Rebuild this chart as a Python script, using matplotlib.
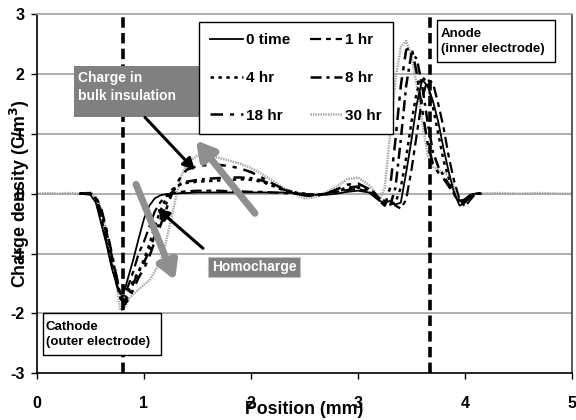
import matplotlib
matplotlib.use('Agg')
import matplotlib.pyplot as plt
from matplotlib.patches import Rectangle

plt.rcParams['font.family'] = ['Liberation Sans', 'DejaVu Sans']
plt.rcParams['font.weight'] = 'bold'
plt.rcParams['font.size'] = 10
plt.rcParams['lines.scale_dashes'] = False

# ---------------- data ----------------
position = [0.40, 0.50, 0.55, 0.60, 0.65, 0.70, 0.75, 0.78, 0.82, 0.86,
            0.90, 0.95, 1.00, 1.05, 1.10, 1.15, 1.20, 1.25, 1.30, 1.35,
            1.40, 1.50, 1.60, 1.70, 1.80, 1.90, 2.00, 2.10, 2.20, 2.30,
            2.40, 2.50, 2.60, 2.70, 2.80, 2.90, 3.00, 3.10, 3.15, 3.20,
            3.25, 3.30, 3.35, 3.40, 3.45, 3.50, 3.55, 3.60, 3.65, 3.70,
            3.75, 3.80, 3.85, 3.90, 3.95, 4.00, 4.05, 4.10, 4.15]

time_0 = [0.0, -0.02, -0.15, -0.5, -0.85, -1.25, -1.55, -1.68, -1.6, -1.35,
          -1.1, -0.75, -0.42, -0.2, -0.08, -0.03, -0.01, 0.0, 0.0, 0.01,
          0.01, 0.02, 0.02, 0.02, 0.02, 0.02, 0.02, 0.02, 0.02, 0.02,
          0.01, 0.0, -0.02, -0.02, 0.0, 0.03, 0.05, 0.02, -0.05, -0.12,
          -0.15, -0.12, -0.18, -0.15, 0.35, 0.9, 1.5, 1.9, 1.8, 1.55,
          1.2, 0.75, 0.35, 0.0, -0.2, -0.15, -0.05, 0.0, 0.0]

hr_1 = [0.0, 0.0, -0.1, -0.4, -0.8, -1.2, -1.55, -1.72, -1.7, -1.5,
        -1.3, -1.0, -0.8, -0.55, -0.3, -0.15, -0.05, 0.0, 0.02, 0.03,
        0.04, 0.05, 0.05, 0.05, 0.04, 0.04, 0.03, 0.03, 0.02, 0.01,
        0.0, -0.02, -0.02, 0.0, 0.03, 0.06, 0.08, 0.03, -0.02, -0.08,
        -0.12, -0.1, -0.2, -0.25, -0.1, 0.4, 1.0, 1.6, 1.9, 1.85,
        1.5, 1.1, 0.6, 0.2, -0.1, -0.22, -0.1, 0.0, 0.0]

hr_4 = [0.0, 0.0, -0.1, -0.35, -0.7, -1.1, -1.5, -1.75, -1.78, -1.6,
        -1.45, -1.3, -1.1, -0.85, -0.55, -0.3, -0.1, 0.05, 0.12, 0.16,
        0.18, 0.2, 0.21, 0.22, 0.23, 0.24, 0.23, 0.2, 0.13, 0.06,
        0.02, 0.0, -0.02, 0.0, 0.04, 0.08, 0.1, 0.05, 0.0, -0.1,
        -0.15, -0.18, -0.15, 0.1, 0.6, 1.2, 1.7, 1.95, 1.85, 1.45,
        1.0, 0.55, 0.25, 0.0, -0.15, -0.12, -0.03, 0.0, 0.0]

hr_8 = [0.0, 0.0, -0.08, -0.3, -0.65, -1.05, -1.45, -1.7, -1.8, -1.7,
        -1.5, -1.3, -1.15, -0.95, -0.7, -0.45, -0.2, 0.0, 0.1, 0.17,
        0.2, 0.23, 0.25, 0.26, 0.27, 0.27, 0.26, 0.22, 0.15, 0.07,
        0.02, -0.02, -0.03, 0.0, 0.05, 0.1, 0.12, 0.08, 0.02, -0.08,
        -0.18, -0.2, 0.1, 0.9, 1.8, 2.35, 2.25, 1.8, 1.2, 0.7,
        0.45, 0.3, 0.15, 0.0, -0.12, -0.1, -0.02, 0.0, 0.0]

hr_18 = [0.0, 0.0, -0.05, -0.25, -0.6, -1.0, -1.45, -1.75, -1.85, -1.75,
         -1.6, -1.4, -1.25, -1.05, -0.8, -0.55, -0.3, -0.05, 0.15, 0.3,
         0.4, 0.46, 0.48, 0.48, 0.46, 0.42, 0.36, 0.27, 0.17, 0.08,
         0.02, -0.03, -0.04, 0.0, 0.07, 0.15, 0.17, 0.08, 0.0, -0.12,
         -0.2, 0.1, 0.9, 1.8, 2.4, 2.45, 2.0, 1.4, 0.85, 0.5,
         0.35, 0.25, 0.12, -0.02, -0.15, -0.1, -0.02, 0.0, 0.0]

position_30 = [0.0, 0.1, 0.2, 0.3] + position + [4.3, 4.5, 4.7, 4.9, 5.0]
hr_30 = [0.0, 0.01, 0.0, 0.01,
         0.0, 0.02, -0.05, -0.25, -0.65, -1.1, -1.6, -1.95, -1.9, -1.75,
         -1.68, -1.6, -1.52, -1.45, -1.3, -1.15, -0.85, -0.45, -0.05, 0.3,
         0.5, 0.64, 0.63, 0.6, 0.55, 0.5, 0.43, 0.33, 0.22, 0.1,
         0.0, -0.08, -0.06, 0.02, 0.12, 0.24, 0.27, 0.15, 0.05, -0.12,
         0.1, 1.0, 1.9, 2.45, 2.55, 2.3, 1.8, 1.2, 0.65, 0.45,
         0.4, 0.35, 0.3, 0.12, -0.12, -0.1, -0.03, 0.0, 0.0,
         0.01, 0.0, 0.01, 0.0, 0.0]

series_labels = ['0 time', '1 hr', '4 hr', '8 hr', '18 hr', '30 hr']
x_ticks = [0, 1, 2, 3, 4, 5]
y_ticks = [-3, -2, -1, 0, 1, 2, 3]
cathode_x = 0.8
anode_x = 3.67

# ---------------- figure ----------------
fig = plt.figure(figsize=(5.76, 4.2), dpi=100)
ax = fig.add_axes([37 / 576, 1 - 373.3 / 420, 535 / 576, 359.3 / 420])
ax.set_xlim(0, 5)
ax.set_ylim(-3, 3)

for yv in [-2, -1, 0, 1, 2]:
    ax.axhline(yv, color='#a8a8a8', lw=1.3, zorder=0)

h30, = ax.plot(position_30, hr_30, color='#a5a5a5', lw=1.8,
               linestyle=(0, (1.0, 0.8)), zorder=2)
h0, = ax.plot(position, time_0, color='black', lw=1.3, linestyle='-', zorder=3)
h1, = ax.plot(position, hr_1, color='black', lw=1.6,
              linestyle=(0, (8, 3.5, 3.5, 3.5)), zorder=3)
h4, = ax.plot(position, hr_4, color='black', lw=1.8,
              linestyle=(0, (2.5, 3.2)), zorder=3)
h8, = ax.plot(position, hr_8, color='black', lw=1.8,
              linestyle=(0, (8, 3.5, 2.2, 3.5)), zorder=3)
h18, = ax.plot(position, hr_18, color='black', lw=1.8,
               linestyle=(0, (9, 5, 3, 5)), zorder=3)

for xv in [cathode_x, anode_x]:
    ax.axvline(xv, color='black', lw=2.6, linestyle=(0, (7.5, 3.8)), zorder=4)

# spines
for side in ['left', 'bottom']:
    ax.spines[side].set_color('black')
    ax.spines[side].set_linewidth(1.2)
ax.spines['top'].set_color('#a8a8a8')
ax.spines['top'].set_linewidth(1.3)
ax.spines['right'].set_color('#404040')
ax.spines['right'].set_linewidth(1.2)

ax.set_xticks(x_ticks)
ax.set_xticklabels([str(v) for v in x_ticks])
ax.set_yticks(y_ticks)
ax.set_yticklabels([str(v) for v in y_ticks])
ax.tick_params(axis='x', direction='out', length=4, width=1, pad=12, labelsize=11.5)
ax.tick_params(axis='y', direction='out', length=4, width=1, pad=5, labelsize=11.5)
for lab in ax.get_xticklabels() + ax.get_yticklabels():
    lab.set_fontweight('bold')

ax.set_xlabel('Position (mm)', fontsize=12.8, fontweight='bold', va='center')
ax.xaxis.set_label_coords(0.5, -0.100)
ax.set_ylabel('Charge density (C/m$^\\mathbf{3}$)', fontsize=12.8,
              fontweight='bold', va='center')
ax.yaxis.set_label_coords(-0.032, 0.5)

# annotation boxes
def px_to_data(px, py):
    return (px - 37) / 107.0, (193.3 - py) / 59.9

gray_box = '#808080'
x0, y0 = px_to_data(74, 117)
x1, y1 = px_to_data(205, 66)
ax.add_patch(Rectangle((x0, y0), x1 - x0, y1 - y0, facecolor=gray_box,
                       edgecolor='none', zorder=5))
tx, ty = px_to_data(78, 87)
ax.text(tx, ty, 'Charge in\nbulk insulation', color='white', fontsize=10,
        fontweight='bold', ha='left', va='center', linespacing=1.35, zorder=6)

x0, y0 = px_to_data(208, 277)
x1, y1 = px_to_data(300, 257)
ax.add_patch(Rectangle((x0, y0), x1 - x0, y1 - y0, facecolor=gray_box,
                       edgecolor='#c0c0c0', lw=0.8, zorder=5))
tx, ty = px_to_data(254, 267)
ax.text(tx, ty, 'Homocharge', color='white', fontsize=10,
        fontweight='bold', ha='center', va='center', zorder=6)

x0, y0 = px_to_data(43, 355)
x1, y1 = px_to_data(161, 313)
ax.add_patch(Rectangle((x0, y0), x1 - x0, y1 - y0, facecolor='white',
                       edgecolor='black', lw=1.0, zorder=5))
tx, ty = px_to_data(46, 334)
ax.text(tx, ty, 'Cathode\n(outer electrode)', color='black', fontsize=9.5,
        fontweight='bold', ha='left', va='center', linespacing=1.35, zorder=6)

x0, y0 = px_to_data(437, 62)
x1, y1 = px_to_data(555, 20)
ax.add_patch(Rectangle((x0, y0), x1 - x0, y1 - y0, facecolor='white',
                       edgecolor='black', lw=1.0, zorder=5))
tx, ty = px_to_data(441, 41)
ax.text(tx, ty, 'Anode\n(inner electrode)', color='black', fontsize=9.5,
        fontweight='bold', ha='left', va='center', linespacing=1.35, zorder=6)

# arrows
def arrow(tail, tip, color, lw, hw, hl):
    ax.annotate('', xy=px_to_data(*tip), xytext=px_to_data(*tail),
                arrowprops=dict(arrowstyle='-|>,head_width=%s,head_length=%s' % (hw, hl),
                                color=color, lw=lw, shrinkA=0, shrinkB=0),
                zorder=7)

arrow((255, 213), (196, 140), '#8f8f8f', 5.0, 0.6, 1.05)
arrow((136, 184), (175, 280), '#8f8f8f', 5.0, 0.6, 1.05)
arrow((145, 117), (195, 170), 'black', 2.2, 0.35, 0.7)
arrow((203, 248), (157, 208), 'black', 2.2, 0.35, 0.7)

# legend
leg = ax.legend([h0, h4, h18, h1, h8, h30],
                ['0 time', '4 hr', '18 hr', '1 hr', '8 hr', '30 hr'],
                ncol=2, loc='upper left',
                bbox_to_anchor=((199 - 37) / 535, (373.3 - 22) / 359.3),
                borderaxespad=0, frameon=True, fancybox=False, framealpha=1,
                edgecolor='black', prop={'weight': 'bold', 'size': 11},
                handlelength=2.1, handletextpad=0.2, labelspacing=1.55,
                columnspacing=1.3, borderpad=0.75)
leg.get_frame().set_linewidth(1.0)
leg.set_zorder(10)

fig.savefig('out.png', dpi=100, facecolor='white')
